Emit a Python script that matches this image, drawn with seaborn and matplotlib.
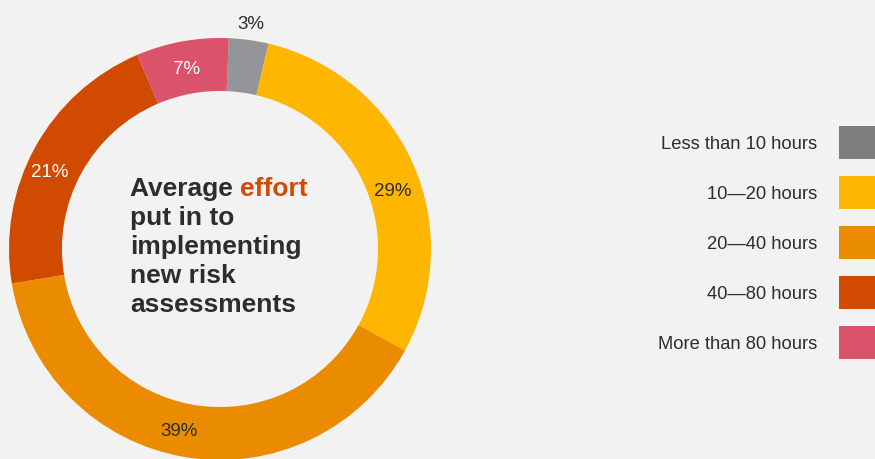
import matplotlib
matplotlib.use("Agg")
import matplotlib.pyplot as plt
import numpy as np
import seaborn as sns
from matplotlib.patches import Rectangle
from matplotlib.transforms import Affine2D

# ---- data -------------------------------------------------------------
categories = ["Less than 10 hours", "10\u201420 hours", "20\u201440 hours",
              "40\u201480 hours", "More than 80 hours"]
shares = [3, 29, 39, 21, 7]
title_lines = ["put in to", "implementing", "new risk", "assessments"]

# ---- styling ----------------------------------------------------------
BG = "#F2F2F2"
DARK = "#2D2D2D"
ACCENT = "#D04A02"
wedge_colors = ["#939598", "#FFB600", "#EB8C00", "#D04A02", "#DB536A"]
legend_colors = ["#7D7D7D", "#FFB600", "#EB8C00", "#D04A02", "#DB536A"]
label_colors = [DARK, DARK, DARK, "#FFFFFF", "#FFFFFF"]
label_radius = [1.085, 0.865, 0.877, 0.886, 0.872]
label_shift = [0, 5, 3, -4, 0]   # clockwise nudge of each label, degrees

sns.set_theme(style="white", rc={"figure.facecolor": BG, "axes.facecolor": BG,
                                 "savefig.facecolor": BG})
plt.rcParams["font.family"] = ["Liberation Sans", "DejaVu Sans"]

W, H = 875, 459
fig = plt.figure(figsize=(W / 100, H / 100), dpi=100)
px = Affine2D().scale(1, -1).translate(0, H)   # top-left pixel coordinates

# ---- donut ------------------------------------------------------------
ax = fig.add_axes([9 / W, -1 / H, 422 / W, 422 / H])
wedges, _ = ax.pie(shares, colors=wedge_colors, startangle=87.6,
                   counterclock=False, radius=1,
                   wedgeprops=dict(width=0.251, linewidth=0))
ax.set_xlim(-1, 1)
ax.set_ylim(-1, 1)
ax.axis("off")

for w, v, c, r, s in zip(wedges, shares, label_colors, label_radius, label_shift):
    ang = np.deg2rad((w.theta1 + w.theta2) / 2 - s)
    ax.text(r * np.cos(ang), r * np.sin(ang), f"{v}%", ha="center",
            va="center_baseline", fontsize=13.5, color=c, clip_on=False)

# ---- centre title -----------------------------------------------------
title_kw = dict(fontsize=19, fontweight="bold", va="baseline", ha="left")
first = fig.text(130, 196, "Average ", color=DARK, transform=px, **title_kw)
fig.canvas.draw()
x_end = first.get_window_extent().x1
fig.text(x_end / W, (H - 196) / H, "effort", color=ACCENT,
         fontsize=19, fontweight="bold", va="baseline", ha="left")
for i, line in enumerate(title_lines):
    fig.text(130, 225 + 29 * i, line, color=DARK, transform=px, **title_kw)

# ---- legend (labels to the left of the swatches) ----------------------
for i, (lab, col) in enumerate(zip(categories, legend_colors)):
    top = 126 + 50 * i
    fig.add_artist(Rectangle((839, top), 36, 33, transform=px,
                             facecolor=col, linewidth=0))
    fig.text(817, top + 16.5, lab, transform=px, ha="right",
             va="center_baseline", fontsize=13.2, color=DARK)

fig.savefig("out.png", dpi=100)
